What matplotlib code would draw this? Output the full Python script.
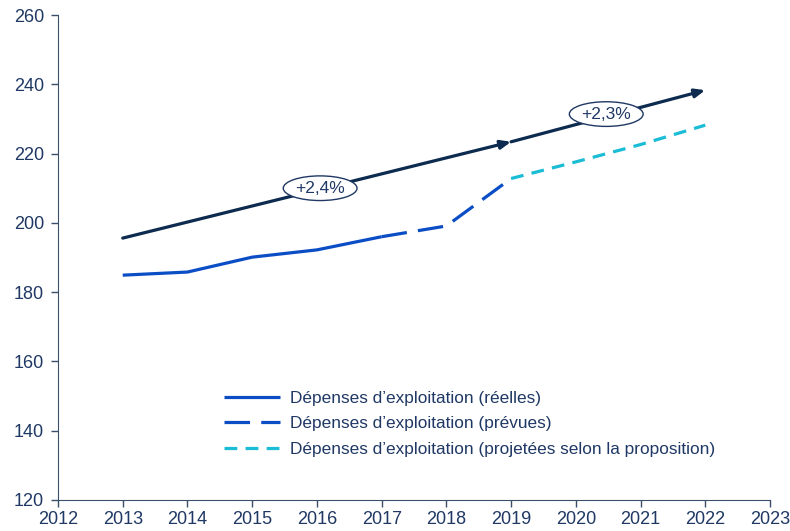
import matplotlib.pyplot as plt

# series values
years_actual = [2013, 2014, 2015, 2016, 2017]
opex_actual = [184.9, 185.8, 190.1, 192.2, 196.0]

years_planned = [2017, 2018, 2019]
opex_planned = [196.0, 199.1, 212.8]

years_projected = [2019, 2020, 2021, 2022]
opex_projected = [212.8, 217.6, 222.6, 228.2]

trend_years = [2013, 2019, 2022]
trend_values = [195.6, 223.4, 238.3]
trend_labels = ['+2,4%', '+2,3%']
label_pos = [(2016.05, 210.0), (2020.47, 231.4)]

legend_labels = ["Dépenses d\u2019exploitation (réelles)",
                 "Dépenses d\u2019exploitation (prévues)",
                 "Dépenses d\u2019exploitation (projetées selon la proposition)"]

txt = '#1f3864'
blue = '#0a4dc5'
cyan = '#1bbcd6'
navy = '#0d2b4f'

plt.rcParams['font.family'] = ['Liberation Sans', 'DejaVu Sans']

fig = plt.figure(figsize=(7.9, 5.31), dpi=100)
ax = fig.add_axes([58 / 790, 1 - 500 / 531, 712 / 790, 485 / 531])

l1, = ax.plot(years_actual, opex_actual, color=blue, lw=2.3, solid_capstyle='butt')
l2, = ax.plot(years_planned, opex_planned, color=blue, lw=2.3, dashes=(8, 3.5))
l3, = ax.plot(years_projected, opex_projected, color=cyan, lw=2.3, dashes=(4, 2.6))

for i in range(2):
    ax.annotate('', xy=(trend_years[i + 1], trend_values[i + 1]),
                xytext=(trend_years[i], trend_values[i]),
                arrowprops=dict(arrowstyle='-|>,head_length=0.6,head_width=0.25',
                                color=navy, lw=2.3, shrinkA=0, shrinkB=0))
    ax.text(label_pos[i][0], label_pos[i][1], trend_labels[i], ha='center', va='center',
            fontsize=12.5, color=txt,
            bbox=dict(boxstyle='ellipse,pad=0.07', fc='white', ec=txt, lw=1))

ax.set_xlim(2012, 2023)
ax.set_ylim(120, 260)
ax.set_xticks(range(2012, 2024))
ax.set_yticks(range(120, 261, 20))
ax.tick_params(colors='#3b4f6b', labelcolor=txt, labelsize=13, length=5, width=1)
ax.tick_params(axis='y', pad=5)
ax.tick_params(axis='x', pad=3)
for s in ['top', 'right']:
    ax.spines[s].set_visible(False)
for s in ['left', 'bottom']:
    ax.spines[s].set_color('#3b4f6b')

leg = ax.legend([l1, l2, l3], legend_labels, loc='upper left',
                bbox_to_anchor=(208 / 790, 1 - 375 / 531), bbox_transform=fig.transFigure,
                frameon=False, fontsize=12.4, handlelength=3.3, labelspacing=0.62,
                handletextpad=0.55, labelcolor=txt)

fig.savefig('out.png')
